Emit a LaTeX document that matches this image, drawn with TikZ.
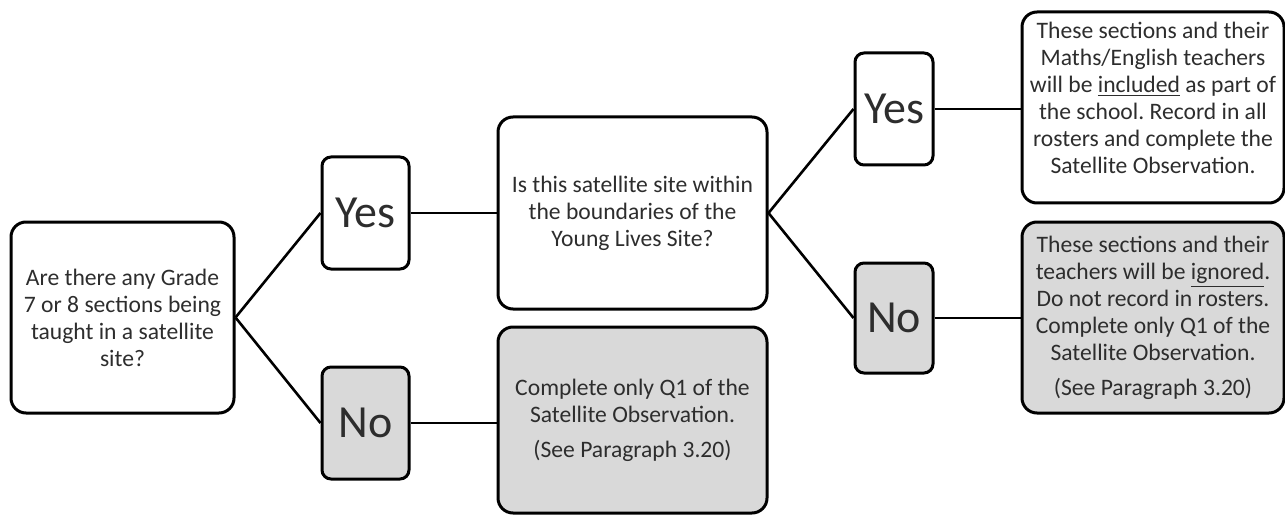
\documentclass[tikz,border=0pt]{standalone}
\usepackage{fontspec}
\setmainfont{Carlito}
\usepackage{tikz}
\definecolor{txtgray}{RGB}{45,45,45}
\definecolor{boxgray}{RGB}{217,217,217}
\frenchspacing

\begin{document}
\begin{tikzpicture}[x=1pt,y=1pt,
	every node/.style={font=\fontsize{11.8}{13.5}\selectfont, text=txtgray},
	box/.style={draw, line width=1.5pt, rounded corners=7.5pt, align=center, inner sep=0pt},
	answer/.style={draw, line width=1.5pt, rounded corners=4.5pt, inner sep=0pt, font=\fontsize{23}{27}\selectfont},
	link/.style={line width=1.3pt}]
	\useasboundingbox (0,0) rectangle (642.5,257.5);
	% first question and its answers
	\node[box, minimum width=111.5pt, minimum height=95.5pt] (q1) at (61.25,98.75) {Are there any Grade\\7 or 8 sections being\\taught in a satellite\\site?};
	\node[answer, minimum width=43.5pt, minimum height=56pt] (yes1) at (182.75,151) {Yes};
	\node[answer, fill=boxgray, minimum width=43.5pt, minimum height=56pt] (no1) at (182.75,46) {No};
	% second question and the outcome of No
	\node[box, minimum width=134.5pt, minimum height=96pt] (q2) at (316.25,151) {Is this satellite site within\\the boundaries of the\\Young Lives Site?};
	\node[box, fill=boxgray, minimum width=134.5pt, minimum height=93pt] (res1) at (316.25,47.5) {Complete only Q1 of the\\Satellite Observation.\\[4pt](See Paragraph 3.20)};
	% answers to the second question
	\node[answer, minimum width=39pt, minimum height=56pt] (yes2) at (447,203) {Yes};
	\node[answer, fill=boxgray, minimum width=39pt, minimum height=55pt] (no2) at (447,98.5) {No};
	\node[box, minimum width=131pt, minimum height=95.5pt, text depth=10pt] (res2) at (576.5,203.75) {These sections and their\\Maths/English teachers\\will be \underline{included} as part of\\the school. Record in all\\rosters and complete the\\Satellite Observation.};
	\node[box, fill=boxgray, minimum width=131pt, minimum height=95.5pt] (res3) at (576.5,98.75) {These sections and their\\teachers will be \underline{ignored}.\\Do not record in rosters.\\Complete only Q1 of the\\Satellite Observation.\\[4pt](See Paragraph 3.20)};
	% connectors
	\draw[link] (q1.east) -- (yes1.west);
	\draw[link] (q1.east) -- (no1.west);
	\draw[link] (yes1.east) -- (q2.west);
	\draw[link] (no1.east) -- (no1.east -| res1.west);
	\draw[link] (q2.east) -- (yes2.west);
	\draw[link] (q2.east) -- (no2.west);
	\draw[link] (yes2.east) -- (yes2.east -| res2.west);
	\draw[link] (no2.east) -- (no2.east -| res3.west);
\end{tikzpicture}
\end{document}
